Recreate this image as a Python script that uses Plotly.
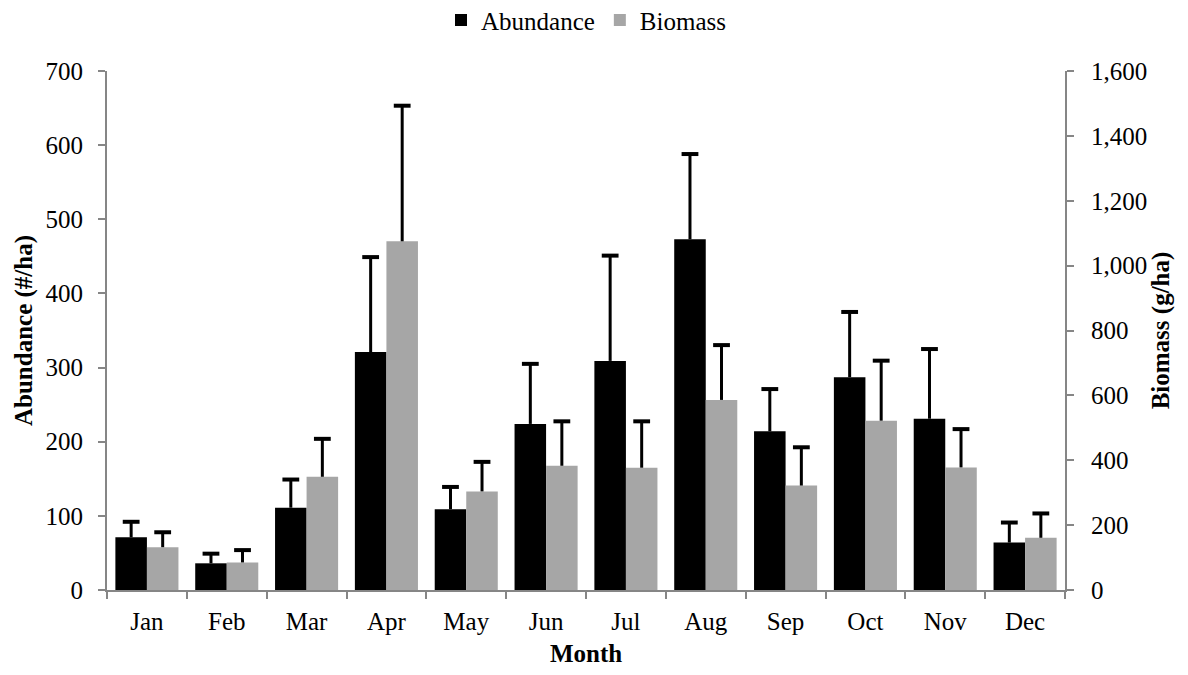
import plotly.graph_objects as go

months = ["Jan", "Feb", "Mar", "Apr", "May", "Jun", "Jul", "Aug", "Sep", "Oct", "Nov", "Dec"]
abundance = [71, 36, 111, 321, 109, 224, 309, 473, 214, 287, 231, 64]
abundance_err = [21, 13, 38, 128, 30, 81, 142, 115, 57, 88, 94, 27]
biomass = [132, 85, 349, 1075, 304, 383, 377, 586, 322, 522, 378, 161]
biomass_err = [46, 38, 117, 418, 91, 137, 143, 169, 118, 185, 118, 75]

FONT = "Liberation Serif, Times New Roman, serif"
AXIS_GRAY = "#868686"
FS = 25

abund_top = [v + e for v, e in zip(abundance, abundance_err)]
bio_top = [v + e for v, e in zip(biomass, biomass_err)]

fig = go.Figure()
fig.add_trace(go.Bar(
    x=months, y=abundance, name="Abundance", yaxis="y", offsetgroup="1",
    marker=dict(color="#000000", line=dict(width=0)),
    error_y=dict(type="data", array=abundance_err, symmetric=False,
                 arrayminus=[0] * len(months), color="#000000", thickness=3, width=0),
))
fig.add_trace(go.Bar(
    x=months, y=biomass, name="Biomass", yaxis="y2", offsetgroup="2",
    marker=dict(color="#a6a6a6", line=dict(width=0)),
    error_y=dict(type="data", array=biomass_err, symmetric=False,
                 arrayminus=[0] * len(months), color="#000000", thickness=3, width=0),
))
# error bar caps (top only)
fig.add_trace(go.Scatter(
    x=months, y=abund_top, yaxis="y", offsetgroup="1", mode="markers",
    marker=dict(symbol="line-ew", size=12, line=dict(width=4, color="#000000")),
    showlegend=False, hoverinfo="skip",
))
fig.add_trace(go.Scatter(
    x=months, y=bio_top, yaxis="y2", offsetgroup="2", mode="markers",
    marker=dict(symbol="line-ew", size=12, line=dict(width=4, color="#000000")),
    showlegend=False, hoverinfo="skip",
))

fig.update_layout(
    width=1188, height=675,
    margin=dict(l=99, r=131, t=63, b=93, autoexpand=False),
    paper_bgcolor="white", plot_bgcolor="white",
    font=dict(family=FONT, size=FS, color="#000000"),
    barmode="group", bargap=0.21, bargroupgap=0,
    scattermode="group", scattergap=0.21,
    showlegend=True,
    legend=dict(orientation="h", x=0.5, xanchor="center", y=1.098, yanchor="middle",
                font=dict(size=FS), itemwidth=30, tracegroupgap=0,
                bgcolor="rgba(0,0,0,0)"),
    xaxis=dict(
        title=dict(text="<b>Month</b>", font=dict(size=FS), standoff=10),
        showline=True, linecolor=AXIS_GRAY, linewidth=2,
        ticks="outside", tickson="boundaries", ticklen=7, tickcolor=AXIS_GRAY, tickwidth=2,
        ticklabelstandoff=8,
        showgrid=False, tickfont=dict(size=FS),
    ),
    yaxis=dict(
        title=dict(text="<b>Abundance (#/ha)</b>", font=dict(size=FS), standoff=6),
        range=[0, 700], dtick=100, tickformat=",d",
        showline=True, linecolor=AXIS_GRAY, linewidth=2,
        ticks="outside", ticklen=7, tickcolor=AXIS_GRAY, tickwidth=2,
        ticklabelstandoff=10,
        showgrid=False, zeroline=False, tickfont=dict(size=FS),
    ),
    yaxis2=dict(
        title=dict(text="<b>Biomass (g/ha)</b>", font=dict(size=FS), standoff=0),
        range=[0, 1600], dtick=200, tickformat=",d",
        overlaying="y", side="right",
        showline=True, linecolor=AXIS_GRAY, linewidth=2,
        ticks="outside", ticklen=7, tickcolor=AXIS_GRAY, tickwidth=2,
        ticklabelstandoff=12,
        showgrid=False, zeroline=False, tickfont=dict(size=FS),
    ),
)

fig.write_html("out.html")
